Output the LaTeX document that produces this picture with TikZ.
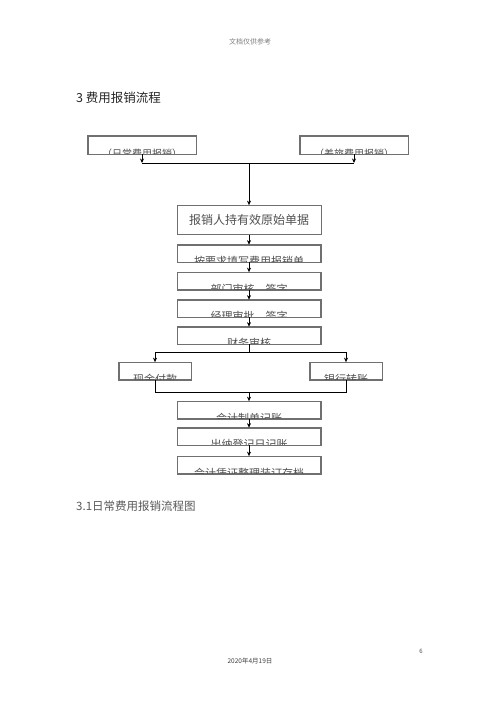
\documentclass[tikz,border=0pt]{standalone}
\usepackage{fontspec}
\setmainfont{Noto Sans CJK SC}
\usetikzlibrary{arrows.meta}
\definecolor{boxline}{HTML}{707070}
\definecolor{txtgray}{HTML}{505050}
\tikzset{
  boxnode/.style={draw=boxline, line width=0.7pt, inner sep=0pt, fill=white},
  smallbox/.style={boxnode, minimum width=143pt, minimum height=17pt},
  topbox/.style={boxnode, minimum width=108pt, minimum height=18pt},
  branchbox/.style={boxnode, minimum width=72pt, minimum height=17pt},
  cliptext/.style={inner sep=0pt, anchor=base, font=\fontsize{11}{11}\selectfont, text=txtgray},
  conn/.style={line width=0.7pt, draw=black},
  arr/.style={conn, -{Stealth[length=4.5pt,width=4pt]}}
}
\newcommand{\clippedtext}[3]{% box name, text name, text
  \begin{scope}
    \clip (#1.south west) rectangle (#1.north east);
    \node[cliptext] (#2) at ([yshift=-3.2pt]#1.south) {#3};
  \end{scope}
  \draw[boxline, line width=0.7pt] (#1.south west) rectangle (#1.north east);
}
\begin{document}
\begin{tikzpicture}[x=1pt,y=-1pt]
\useasboundingbox[fill=white] (0,0) rectangle (500,707);

% header / titles
\node[font=\fontsize{7}{7}\selectfont, text=gray] (hdr) at (250,42) {文档仅供参考};
\node[anchor=west, inner sep=0pt, font=\fontsize{12.5}{12.5}\selectfont, text=black!85] (ttl) at (76,98) {3 费用报销流程};
\node[anchor=west, inner sep=0pt, font=\fontsize{11.5}{11.5}\selectfont, text=black!65] (sub) at (76,506) {3.1日常费用报销流程图};
\node[font=\fontsize{6}{6}\selectfont, text=black!70] (pg) at (421,651) {6};
\node[font=\fontsize{6.5}{6.5}\selectfont, text=black!75] (dt) at (250,661) {2020年4月19日};

% boxes
\node[topbox] (tl) at (142,145) {};
\node[topbox] (tr) at (354,145) {};
\node[boxnode, minimum width=144pt, minimum height=29pt, font=\fontsize{12}{12}\selectfont, text=txtgray] (main) at (249,220) {报销人持有效原始单据};
\node[smallbox] (b2) at (249,253.5) {};
\node[smallbox] (b3) at (249,281) {};
\node[smallbox] (b4) at (249,308.5) {};
\node[smallbox] (b5) at (249,335.5) {};
\node[branchbox] (bl) at (155,371) {};
\node[branchbox] (br) at (346,371) {};
\node[smallbox] (b6) at (249,410) {};
\node[smallbox] (b7) at (249,436.5) {};
\node[smallbox] (b8) at (249,465) {};

\begin{scope}[cliptext/.append style={font=\fontsize{10}{10}\selectfont}]
\clippedtext{tl}{ttl1}{（日常费用报销）}
\clippedtext{tr}{ttr1}{（差旅费用报销）}
\end{scope}
\clippedtext{b2}{t2}{按要求填写费用报销单}
\clippedtext{b3}{t3}{部门审核、签字}
\clippedtext{b4}{t4}{经理审批、签字}
\clippedtext{b5}{t5}{财务审核}
\clippedtext{bl}{tbl}{现金付款}
\clippedtext{br}{tbr}{银行转账}
\clippedtext{b6}{t6}{会计制单记账}
\clippedtext{b7}{t7}{出纳登记日记账}
\clippedtext{b8}{t8}{会计凭证整理装订存档}

% top merge
\coordinate (jc) at (249,163);
\draw[arr] (tl.south) -- (tl.south |- jc);
\draw[arr] (tr.south) -- (tr.south |- jc);
\draw[conn] (tl.south |- jc) -- (tr.south |- jc);
\draw[arr] (jc) -- (main.north);

% chain
\draw[arr] (main.south) -- (b2.north);
\draw[arr] (b2.south) -- (b3.north);
\draw[arr] (b3.south) -- (b4.north);
\draw[arr] (b4.south) -- (b5.north);

% split
\coordinate (sp) at (249,352);
\draw[conn] (b5.south) -- (sp);
\draw[conn] (sp -| bl.north) -- (sp -| br.north);
\draw[arr] (sp -| bl.north) -- (bl.north);
\draw[arr] (sp -| br.north) -- (br.north);

% merge
\coordinate (mg) at (249,392);
\draw[conn] (bl.south) -- (bl.south |- mg) -- (br.south |- mg) -- (br.south);
\draw[arr] (mg) -- (b6.north);
\draw[arr] (b6.south) -- (b7.north);
\draw[arr] (b7.south) -- (b8.north);
\end{tikzpicture}
\end{document}
